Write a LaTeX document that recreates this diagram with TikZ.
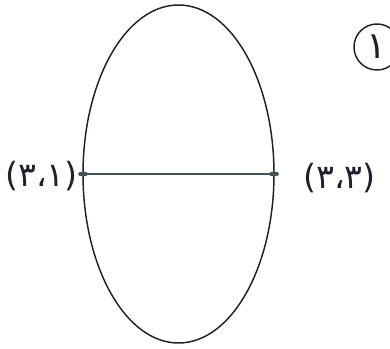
\documentclass[tikz,border=0pt]{standalone}
\usepackage{fontspec}
\newfontfamily\arabicfont[Script=Arabic]{DejaVu Sans}
\begin{document}
\begin{tikzpicture}[x=0.75pt,y=0.75pt,yscale=-1,xscale=1]
\useasboundingbox (0,0) rectangle (390,349);

%Shape: Ellipse
\draw [color={rgb, 255:red, 30; green, 32; blue, 45 }, line width=1.1pt] (178.5,174) ellipse (95.5 and 169);
%Points on the ellipse
\coordinate (p31) at (83,174);
\coordinate (p33) at (274,174);
%Straight Lines
\draw [color={rgb, 255:red, 70; green, 82; blue, 90 }, line width=1.6pt] (p31) -- (p33);
\fill [color={rgb, 255:red, 70; green, 82; blue, 90 }] (p31) ellipse (5 and 2.5);
\fill [color={rgb, 255:red, 70; green, 82; blue, 90 }] (p33) ellipse (5 and 2.5);

% Text Node
\node (lbl31) [anchor=east, inner sep=0.75pt, font=\arabicfont\fontsize{25}{28}\selectfont, color={rgb, 255:red, 30; green, 32; blue, 45 }] at (79,176) {(۳،۱)};
% Text Node
\node (lbl33) [anchor=west, inner sep=0.75pt, font=\arabicfont\fontsize{25}{28}\selectfont, color={rgb, 255:red, 30; green, 32; blue, 45 }] at (302,178) {(۳،۳)};
% Text Node
\node (num1) [inner sep=0pt, font=\arabicfont\fontsize{28}{30}\selectfont, color={rgb, 255:red, 30; green, 32; blue, 45 }] at (377,47) {۱};
%Shape: Circle
\draw [color={rgb, 255:red, 30; green, 32; blue, 45 }, line width=1.1pt] (num1.center) circle (23);

\end{tikzpicture}
\end{document}
